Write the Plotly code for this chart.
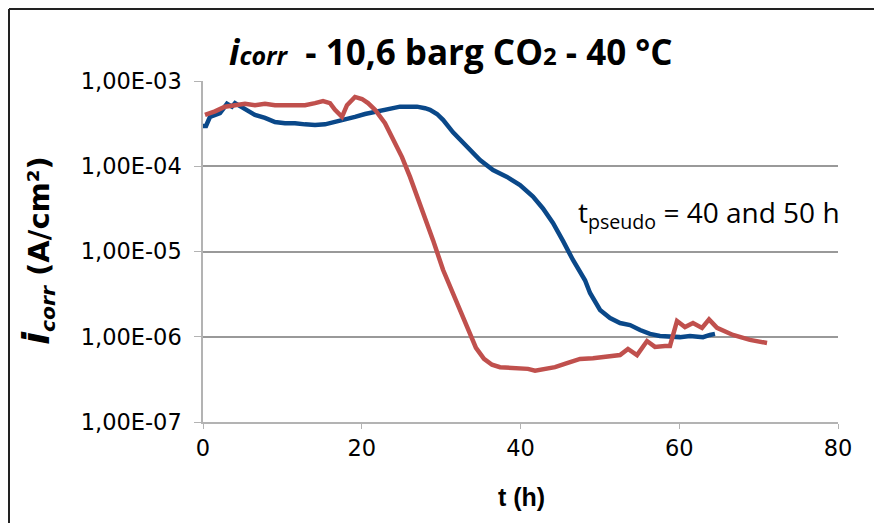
import plotly.graph_objects as go

# ---- data ----
t_red = [0.25, 1.51, 2.77, 4.03, 5.29, 6.55, 7.81, 9.07, 10.33, 11.59, 12.85, 14.11, 15.12, 16.0,
         16.63, 17.51, 18.14, 19.15, 20.03, 20.79, 21.67, 22.93, 23.56, 25.07, 26.08, 27.34, 28.98,
         30.24, 31.5, 32.38, 33.39, 34.39, 35.4, 36.41, 37.42, 38.68, 39.94, 40.94, 41.83, 43.09,
         44.35, 45.86, 47.5, 49.13, 50.9, 52.54, 53.54, 54.68, 55.94, 56.94, 58.2, 58.83, 59.72,
         60.72, 61.73, 62.87, 63.75, 64.76, 66.77, 68.91, 71.06]
i_red = [4.0e-4, 4.4e-4, 5.0e-4, 5.2e-4, 5.4e-4, 5.2e-4, 5.4e-4, 5.2e-4, 5.2e-4, 5.2e-4, 5.2e-4,
         5.5e-4, 5.8e-4, 5.5e-4, 4.6e-4, 3.8e-4, 5.2e-4, 6.5e-4, 6.15e-4, 5.5e-4, 4.6e-4, 3.2e-4,
         2.45e-4, 1.28e-4, 7.5e-5, 3.7e-5, 1.36e-5, 6.1e-6, 3.26e-6, 2.06e-6, 1.2e-6, 7.4e-7,
         5.5e-7, 4.7e-7, 4.4e-7, 4.3e-7, 4.3e-7, 4.2e-7, 4.0e-7, 4.2e-7, 4.4e-7, 4.9e-7, 5.5e-7,
         5.6e-7, 5.9e-7, 6.1e-7, 7.2e-7, 6.1e-7, 8.9e-7, 7.6e-7, 7.8e-7, 7.8e-7, 1.53e-6, 1.3e-6,
         1.45e-6, 1.27e-6, 1.6e-6, 1.27e-6, 1.05e-6, 9.2e-7, 8.45e-7]

t_blue = [0.0, 0.38, 0.88, 2.14, 3.02, 3.65, 4.03, 5.29, 6.55, 7.81, 9.07, 10.33, 11.59, 12.85,
          14.11, 15.37, 16.63, 17.89, 19.15, 20.41, 21.67, 22.93, 23.94, 24.82, 26.08, 26.96,
          27.97, 28.6, 29.48, 30.24, 31.5, 33.26, 34.9, 36.54, 38.3, 39.94, 41.57, 42.83, 44.09,
          45.35, 46.61, 48.13, 48.76, 50.02, 51.28, 52.54, 53.8, 55.06, 56.31, 57.57, 58.83,
          60.09, 61.35, 62.99, 63.87, 64.5]
i_blue = [2.97e-4, 2.97e-4, 3.8e-4, 4.2e-4, 5.4e-4, 5.0e-4, 5.5e-4, 4.7e-4, 4.0e-4, 3.7e-4,
          3.3e-4, 3.2e-4, 3.2e-4, 3.1e-4, 3.05e-4, 3.1e-4, 3.3e-4, 3.5e-4, 3.8e-4, 4.1e-4,
          4.3e-4, 4.6e-4, 4.8e-4, 5.0e-4, 5.0e-4, 5.0e-4, 4.8e-4, 4.6e-4, 4.1e-4, 3.5e-4,
          2.5e-4, 1.68e-4, 1.18e-4, 9.0e-5, 7.5e-5, 6.0e-5, 4.4e-5, 3.2e-5, 2.16e-5, 1.33e-5,
          7.95e-6, 4.6e-6, 3.26e-6, 2.06e-6, 1.66e-6, 1.45e-6, 1.37e-6, 1.2e-6, 1.08e-6,
          1.02e-6, 9.9e-7, 9.9e-7, 1.02e-6, 9.9e-7, 1.05e-6, 1.08e-6]

y_tickvals = [1e-7, 1e-6, 1e-5, 1e-4, 1e-3]
y_ticktext = ["1,00E-07", "1,00E-06", "1,00E-05", "1,00E-04", "1,00E-03"]
x_tickvals = [0, 20, 40, 60, 80]

BLUE = "#0a4889"
RED = "#c0504d"

fig = go.Figure()
fig.add_trace(go.Scatter(x=t_blue, y=i_blue, mode="lines",
                         line=dict(color=BLUE, width=4.5), showlegend=False))
fig.add_trace(go.Scatter(x=t_red, y=i_red, mode="lines",
                         line=dict(color=RED, width=4.5), showlegend=False))

# page has an 8px body margin: figure is placed at (8, 8) in the window
OFF = 8
W, H = 882 - OFF, 523 - OFF
L, R, T, B = 203 - OFF, 44, 81 - OFF, 101
pw, ph = W - L - R, H - T - B

def px(x):
    return (x - OFF - L) / pw

def py(y):
    return (H - B - (y - OFF)) / ph

tick_font = dict(family="DejaVu Sans, sans-serif", size=22.5, color="#000000")

fig.update_layout(
    width=W, height=H,
    margin=dict(l=L, r=R, t=T, b=B, pad=0),
    paper_bgcolor="#ffffff",
    plot_bgcolor="#ffffff",
    xaxis=dict(range=[0, 80], tickvals=x_tickvals, ticktext=[str(v) for v in x_tickvals],
               showgrid=False, zeroline=False, showline=True, linecolor="#b3b3b3", linewidth=2,
               ticks="outside", ticklen=5, tickcolor="#b3b3b3", tickwidth=1,
               tickfont=tick_font, ticklabelstandoff=0),
    yaxis=dict(type="log", range=[-7, -3], tickvals=y_tickvals, ticktext=y_ticktext,
               showgrid=True, gridcolor="#999999", gridwidth=2, zeroline=False,
               showline=True, linecolor="#b3b3b3", linewidth=1.5,
               ticks="outside", ticklen=7, tickcolor="#b3b3b3", tickwidth=1,
               tickfont=tick_font, ticklabelstandoff=8),
    shapes=[
        # black frame lines (left and top)
        dict(type="line", xref="paper", yref="paper", x0=px(9), x1=px(9), y0=py(9), y1=py(530),
             line=dict(color="#222222", width=2)),
        dict(type="line", xref="paper", yref="paper", x0=px(9), x1=px(890), y0=py(9), y1=py(9),
             line=dict(color="#222222", width=2)),
    ],
    annotations=[
        dict(xref="paper", yref="paper", x=px(451), y=py(51), xanchor="center", yanchor="middle",
             showarrow=False,
             text="<b><i>i</i><i><span style='font-size:25px'>corr</span></i>  - 10,6 barg CO"
                  "<span style='font-size:24px'>2</span> - 40 °C</b>",
             font=dict(family="Open Sans, sans-serif", size=35, color="#000000")),
        dict(xref="paper", yref="paper", x=px(521), y=py(497), xanchor="center", yanchor="middle",
             showarrow=False, text="<b>t (h)</b>",
             font=dict(family="Liberation Sans, Arial, sans-serif", size=25, color="#000000")),
        dict(xref="paper", yref="paper", x=px(37), y=py(250), xanchor="center", yanchor="middle",
             showarrow=False, textangle=-90,
             text="<b><i><span style='font-size:38px'>i</span><sub>corr</sub></i> (A/cm²)</b>",
             font=dict(family="DejaVu Sans, sans-serif", size=29, color="#000000")),
        dict(xref="paper", yref="paper", x=px(576), y=py(214), xanchor="left", yanchor="middle",
             showarrow=False,
             text="t<sub>pseudo</sub> = 40 and 50 h",
             font=dict(family="Open Sans, sans-serif", size=28, color="#000000")),
    ],
)

fig.write_html("out.html")
